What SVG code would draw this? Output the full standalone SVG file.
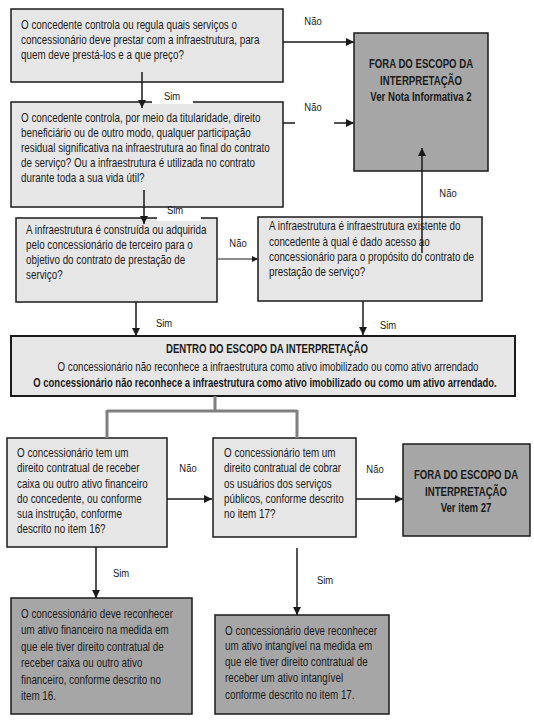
<svg xmlns="http://www.w3.org/2000/svg" width="534" height="720" viewBox="0 0 534 720">
<defs>
<style>
text{font-family:"Liberation Sans",Arial,sans-serif;fill:#1a1a1a}
.t{font-size:12px}
.lb{font-size:11.5px;text-anchor:middle}
.b{font-weight:bold;font-size:12px;text-anchor:middle}
.m{text-anchor:middle}
.lt{fill:#e6e6e6;stroke:#1a1a1a;stroke-width:1.5}
.dk{fill:#a6a6a6;stroke:#1a1a1a;stroke-width:1.5}
.c{fill:none;stroke:#1a1a1a;stroke-width:1.5}
.g{fill:none;stroke:#808080;stroke-width:3}
</style>
<marker id="ar" viewBox="0 0 10 10" refX="10" refY="5" markerWidth="8" markerHeight="8" markerUnits="userSpaceOnUse" orient="auto">
<path d="M0,0 L10,5 L0,10 z" fill="#1a1a1a"/>
</marker>
<marker id="ars" viewBox="0 0 10 10" refX="10" refY="5" markerWidth="6" markerHeight="6" markerUnits="userSpaceOnUse" orient="auto">
<path d="M0,0 L10,5 L0,10 z" fill="#1a1a1a"/>
</marker>
</defs>
<rect width="534" height="720" fill="#fff"/>

<g id="n1">
<rect class="lt" x="11" y="9" width="272" height="73"/>
<g transform="translate(21 0) scale(.82 1)">
<text class="t" y="29">O concedente controla ou regula quais serviços o</text>
<text class="t" y="44">concessionário deve prestar com a infraestrutura, para</text>
<text class="t" y="59">quem deve prestá-los e a que preço?</text>
</g>
</g>

<g id="n2">
<rect class="lt" x="11" y="102" width="272" height="105"/>
<g transform="translate(21 0) scale(.82 1)">
<text class="t" y="122">O concedente controla, por meio da titularidade, direito</text>
<text class="t" y="137">beneficiário ou de outro modo, qualquer participação</text>
<text class="t" y="152">residual significativa na infraestrutura ao final do contrato</text>
<text class="t" y="167">de serviço? Ou a infraestrutura é utilizada no contrato</text>
<text class="t" y="182">durante toda a sua vida útil?</text>
</g>
</g>

<g id="n3">
<rect class="lt" x="16" y="218" width="201" height="84"/>
<g transform="translate(26 0) scale(.82 1)">
<text class="t" y="234">A infraestrutura é construída ou adquirida</text>
<text class="t" y="249">pelo concessionário de terceiro para o</text>
<text class="t" y="264">objetivo do contrato de prestação de</text>
<text class="t" y="279">serviço?</text>
</g>
</g>

<g id="n4">
<rect class="lt" x="258" y="217" width="224" height="84"/>
<g transform="translate(269 0) scale(.82 1)">
<text class="t" y="230">A infraestrutura é infraestrutura existente do</text>
<text class="t" y="246">concedente à qual é dado acesso ao</text>
<text class="t" y="261">concessionário para o propósito do contrato de</text>
<text class="t" y="276">prestação de serviço?</text>
</g>
</g>

<g id="fora1">
<rect class="dk" x="354" y="33" width="134" height="138"/>
<g transform="translate(421 0) scale(.8 1)">
<text class="b" y="68">FORA DO ESCOPO DA</text>
<text class="b" y="85">INTERPRETAÇÃO</text>
<text class="b" y="101">Ver Nota Informativa 2</text>
</g>
</g>

<g id="dentro">
<rect class="lt" x="11" y="336" width="504" height="60" style="stroke-width:2"/>
<g transform="translate(267 0) scale(.8 1)">
<text class="b" y="353">DENTRO DO ESCOPO DA INTERPRETAÇÃO</text>
</g>
<g transform="translate(268 0) scale(.81 1)">
<text class="t m" y="371">O concessionário não reconhece a infraestrutura como ativo imobilizado ou como ativo arrendado</text>
</g>
<g transform="translate(265 0) scale(.79 1)">
<text class="b" y="387">O concessionário não reconhece a infraestrutura como ativo imobilizado ou como um ativo arrendado.</text>
</g>
</g>

<g id="n5">
<rect class="lt" x="7" y="438" width="160" height="109"/>
<g transform="translate(17 0) scale(.82 1)">
<text class="t" y="457">O concessionário tem um</text>
<text class="t" y="472">direito contratual de receber</text>
<text class="t" y="488">caixa ou outro ativo financeiro</text>
<text class="t" y="503">do concedente, ou conforme</text>
<text class="t" y="518">sua instrução, conforme</text>
<text class="t" y="533">descrito no item 16?</text>
</g>
</g>

<g id="n6">
<rect class="lt" x="213" y="438" width="143" height="99"/>
<g transform="translate(224 0) scale(.82 1)">
<text class="t" y="457">O concessionário tem um</text>
<text class="t" y="472">direito contratual de cobrar</text>
<text class="t" y="488">os usuários dos serviços</text>
<text class="t" y="503">públicos, conforme descrito</text>
<text class="t" y="518">no item 17?</text>
</g>
</g>

<g id="fora2">
<rect class="dk" x="403" y="444" width="127" height="92"/>
<g transform="translate(466 0) scale(.8 1)">
<text class="b" y="479">FORA DO ESCOPO DA</text>
<text class="b" y="496">INTERPRETAÇÃO</text>
<text class="b" y="512">Ver item 27</text>
</g>
</g>

<g id="n7">
<rect class="dk" x="11" y="598" width="181" height="116"/>
<g transform="translate(21 0) scale(.82 1)">
<text class="t" y="618">O concessionário deve reconhecer</text>
<text class="t" y="634">um ativo financeiro na medida em</text>
<text class="t" y="651">que ele tiver direito contratual de</text>
<text class="t" y="667">receber caixa ou outro ativo</text>
<text class="t" y="684">financeiro, conforme descrito no</text>
<text class="t" y="700">item 16.</text>
</g>
</g>

<g id="n8">
<rect class="dk" x="215" y="615" width="174" height="99"/>
<g transform="translate(225 0) scale(.82 1)">
<text class="t" y="635">O concessionário deve reconhecer</text>
<text class="t" y="650">um ativo intangível na medida em</text>
<text class="t" y="666">que ele tiver direito contratual de</text>
<text class="t" y="682">receber um ativo intangível</text>
<text class="t" y="699">conforme descrito no item 17.</text>
</g>
</g>

<g id="connectors">
<path class="c" d="M142,72 V108" marker-end="url(#ar)"/>
<rect x="152" y="84" width="41" height="20" fill="#fff"/>
<text class="lb" transform="translate(172 100) scale(.82 1)">Sim</text>

<path class="c" d="M144,190 V224" marker-end="url(#ar)"/>
<rect x="157" y="208" width="44" height="13" fill="#fff"/>
<text class="lb" transform="translate(175 214) scale(.82 1)">Sim</text>

<path class="c" d="M283,42 H354" marker-end="url(#ar)"/>
<text class="lb" transform="translate(313 25) scale(.82 1)">Não</text>

<path class="c" d="M283,123 H295"/>
<path class="c" d="M334,123 H354" marker-end="url(#ar)"/>
<text class="lb" transform="translate(313 111) scale(.82 1)">Não</text>

<path d="M218,259 H258" fill="none" stroke="#1a1a1a" stroke-width="1" marker-end="url(#ars)"/>
<text class="lb" transform="translate(238 247) scale(.82 1)">Não</text>

<path class="c" d="M422,253 V148" marker-end="url(#ar)"/>
<text class="lb" transform="translate(448 197) scale(.82 1)">Não</text>

<path class="c" d="M136,302 V336" marker-end="url(#ar)"/>
<text class="lb" transform="translate(164 327) scale(.82 1)">Sim</text>

<path class="c" d="M363,301 V335" marker-end="url(#ar)"/>
<text class="lb" transform="translate(388 329) scale(.82 1)">Sim</text>

<path class="g" d="M215,396 V411 M107,411 H297 M107,410 V438 M297,410 V438"/>

<path class="c" d="M167,499 H212" marker-end="url(#ar)"/>
<text class="lb" transform="translate(188 472) scale(.82 1)">Não</text>

<path class="c" d="M356,499 H403" marker-end="url(#ar)"/>
<text class="lb" transform="translate(375 473) scale(.82 1)">Não</text>

<path class="c" d="M96,547 V598" marker-end="url(#ar)"/>
<text class="lb" transform="translate(121 577) scale(.82 1)">Sim</text>

<path class="c" d="M297,548 V615" marker-end="url(#ar)"/>
<text class="lb" transform="translate(325 584) scale(.82 1)">Sim</text>
</g>
</svg>
